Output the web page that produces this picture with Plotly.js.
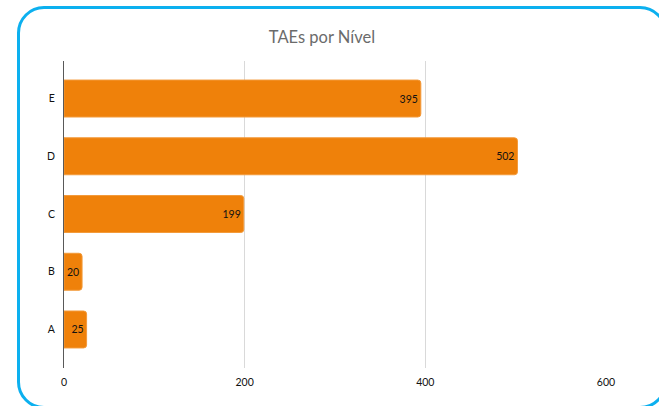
<!DOCTYPE html>
<html>
<head>
<meta charset="utf-8">
<script src="https://cdn.plot.ly/plotly-3.0.1.min.js"></script>
<style>
  html, body { margin: 0; padding: 0; background: #ffffff; }
  #wrap { position: relative; width: 659px; height: 406px; overflow: hidden; }
  #chart { position: absolute; left: 0; top: 0; width: 659px; height: 406px; }
  #frame { position: absolute; left: 17px; top: 6px; width: 650px; height: 403px;
           box-sizing: border-box; border: 3px solid #0cb0ef; border-radius: 27px;
           pointer-events: none; }
</style>
</head>
<body>
<div id="wrap">
  <div id="chart"></div>
  <div id="frame"></div>
</div>
<script>
const chartTitle = "TAEs por Nível";
const categories = ["A", "B", "C", "D", "E"];
const values = [25, 20, 199, 502, 395];
const xTicks = [0, 200, 400, 600];

const FONT = "Lato, 'Liberation Sans', sans-serif";

const trace = {
  type: "bar",
  orientation: "h",
  y: categories,
  x: values,
  marker: { color: "#ef810a", line: { color: "#f39a3a", width: 1 } },
  text: values.map(String),
  textposition: "inside",
  insidetextanchor: "end",
  constraintext: "none",
  textangle: 0,
  textfont: { family: FONT, size: 10.5, color: "#111111" },
  hoverinfo: "none",
  cliponaxis: false
};

const layout = {
  width: 659,
  height: 406,
  margin: { l: 64, r: 53, t: 61, b: 38, pad: 0 },
  paper_bgcolor: "rgba(0,0,0,0)",
  plot_bgcolor: "rgba(0,0,0,0)",
  showlegend: false,
  bargap: 0.36,
  barcornerradius: 3,
  font: { family: FONT, size: 10.5, color: "#111111" },
  title: {
    text: chartTitle,
    x: 322 / 659,
    xanchor: "center",
    y: 1 - 37 / 406,
    yanchor: "middle",
    xref: "container",
    yref: "container",
    font: { family: FONT, size: 16.5, color: "#6b6b6b" }
  },
  xaxis: {
    range: [0, 600],
    tickvals: xTicks,
    ticktext: xTicks.map(String),
    showgrid: true,
    gridcolor: "#d9d9d9",
    gridwidth: 1,
    zeroline: false,
    showline: false,
    ticks: "",
    ticklabelstandoff: 6,
    tickfont: { family: FONT, size: 10.5, color: "#111111" },
    fixedrange: true
  },
  yaxis: {
    type: "category",
    categoryorder: "array",
    categoryarray: categories,
    range: [-0.667, 4.65],
    showgrid: false,
    zeroline: false,
    showline: true,
    linecolor: "#595959",
    linewidth: 1,
    ticks: "",
    ticklabelstandoff: 6,
    tickfont: { family: FONT, size: 10.5, color: "#111111" },
    fixedrange: true
  }
};

Plotly.newPlot("chart", [trace], layout, { staticPlot: true, displayModeBar: false });
</script>
</body>
</html>
